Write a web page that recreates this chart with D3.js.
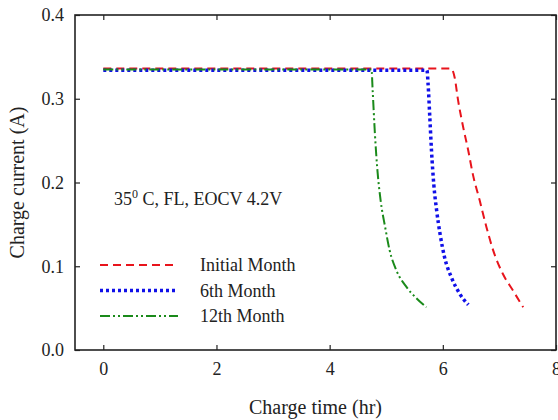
<!DOCTYPE html>
<html>
<head>
<meta charset="utf-8">
<script src="https://cdn.jsdelivr.net/npm/d3@7"></script>
<style>
  body { margin: 0; background: #fff; }
  text { font-family: "Liberation Serif", "Times New Roman", serif; fill: #222; }
</style>
</head>
<body>
<script>
// chart size
let width = 558,
    height = 420,
    margin = { left: 75, right: 2, top: 15, bottom: 70 };

// series: charge time (hr) and current (A)
var initialTime = [0, 6.15, 6.21, 6.27, 6.36, 6.45, 6.53, 6.65, 6.77, 6.89, 7.06, 7.24, 7.42];
var initialCur  = [0.336, 0.336, 0.325, 0.298, 0.266, 0.238, 0.210, 0.179, 0.147, 0.119, 0.091, 0.071, 0.051];

var sixthTime = [0, 5.72, 5.74, 5.77, 5.80, 5.84, 5.89, 5.95, 6.03, 6.15, 6.30, 6.45];
var sixthCur  = [0.334, 0.334, 0.317, 0.278, 0.238, 0.198, 0.167, 0.139, 0.111, 0.087, 0.067, 0.054];

var twelfthTime = [0, 4.74, 4.76, 4.80, 4.84, 4.90, 4.98, 5.06, 5.18, 5.36, 5.53, 5.71];
var twelfthCur  = [0.335, 0.335, 0.310, 0.258, 0.218, 0.179, 0.147, 0.119, 0.095, 0.075, 0.062, 0.051];

var seriesNames = ['Initial Month', '6th Month', '12th Month'];
var xTicks = [0, 2, 4, 6, 8];
var yTicks = [0.0, 0.1, 0.2, 0.3, 0.4];

// line looks per series
var looks = [
    { color: '#e8141c', dash: '8,5', w: 2 },
    { color: '#1010e8', dash: '3,3', w: 3.5 },
    { color: '#1a8a1a', dash: '10,3,2,3,2,3', w: 2 }
];

var series = [
    d3.zip(initialTime, initialCur),
    d3.zip(sixthTime, sixthCur),
    d3.zip(twelfthTime, twelfthCur)
];

var svg = d3.select('body').append('svg')
    .attr('width', width)
    .attr('height', height);

var x = d3.scaleLinear().domain([-0.5, 8]).range([margin.left, width - margin.right]);
var y = d3.scaleLinear().domain([0, 0.4]).range([height - margin.bottom, margin.top]);

// frame
svg.append('rect')
    .attr('x', x(-0.5)).attr('y', y(0.4))
    .attr('width', x(8) - x(-0.5)).attr('height', y(0) - y(0.4))
    .attr('fill', 'none').attr('stroke', '#222').attr('stroke-width', 1.6);

// inward ticks on all sides
var tickLen = 5;
var bottomAxis = d3.axisBottom(x).tickValues(xTicks).tickSize(-tickLen).tickPadding(12).tickFormat(d3.format('d'));
var topAxis = d3.axisTop(x).tickValues(xTicks).tickSize(-tickLen).tickFormat('');
var leftAxis = d3.axisLeft(y).tickValues(yTicks).tickSize(-tickLen).tickPadding(11).tickFormat(d3.format('.1f'));
var rightAxis = d3.axisRight(y).tickValues(yTicks).tickSize(-tickLen).tickFormat('');

function styleAxis(g) {
    g.select('.domain').remove();
    g.selectAll('.tick line').attr('stroke', '#222').attr('stroke-width', 1.2);
    g.selectAll('.tick text').style('font-family', '"Liberation Serif", serif').style('font-size', '18px').attr('fill', '#222');
}

svg.append('g').attr('transform', `translate(0,${y(0)})`).call(bottomAxis).call(styleAxis);
svg.append('g').attr('transform', `translate(0,${y(0.4)})`).call(topAxis).call(styleAxis);
svg.append('g').attr('transform', `translate(${x(-0.5)},0)`).call(leftAxis).call(styleAxis);
svg.append('g').attr('transform', `translate(${x(8)},0)`).call(rightAxis).call(styleAxis);

// curves
var line = d3.line().x(d => x(d[0])).y(d => y(d[1])).curve(d3.curveMonotoneX);

svg.selectAll('.curve')
    .data(series)
    .enter().append('path')
    .attr('class', 'curve')
    .attr('d', line)
    .attr('fill', 'none')
    .attr('stroke', (d, i) => looks[i].color)
    .attr('stroke-width', (d, i) => looks[i].w)
    .attr('stroke-dasharray', (d, i) => looks[i].dash);

// axis titles
svg.append('text')
    .attr('x', (x(-0.5) + x(8)) / 2).attr('y', 414)
    .attr('text-anchor', 'middle')
    .style('font-size', '20px')
    .text('Charge time (hr)');

svg.append('text')
    .attr('transform', `translate(24,${(y(0) + y(0.4)) / 2}) rotate(-90)`)
    .attr('text-anchor', 'middle')
    .style('font-size', '20px')
    .text('Charge current (A)');

// condition note
var note = svg.append('text')
    .attr('x', 114).attr('y', 205)
    .style('font-size', '18px');
note.append('tspan').text('35');
note.append('tspan').attr('dy', -7).style('font-size', '12px').text('0');
note.append('tspan').attr('dy', 7).text(' C, FL, EOCV 4.2V');

// legend
var legend = svg.selectAll('.leg')
    .data(seriesNames)
    .enter().append('g')
    .attr('class', 'leg')
    .attr('transform', (d, i) => `translate(100,${265 + i * 25.5})`);

legend.append('line')
    .attr('x1', 0).attr('x2', 78).attr('y1', 0).attr('y2', 0)
    .attr('stroke', (d, i) => looks[i].color)
    .attr('stroke-width', (d, i) => looks[i].w)
    .attr('stroke-dasharray', (d, i) => looks[i].dash);

legend.append('text')
    .attr('x', 100).attr('y', 6)
    .style('font-size', '18px')
    .text(d => d);
</script>
</body>
</html>
